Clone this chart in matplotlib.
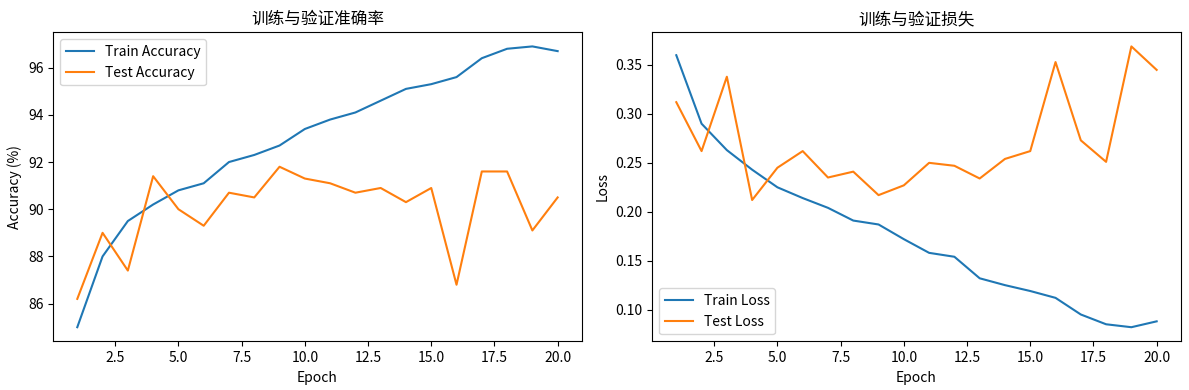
import matplotlib
matplotlib.use("Agg")
import matplotlib.pyplot as plt

plt.rcParams['font.family'] = ['Noto Sans CJK SC', 'DejaVu Sans']
plt.rcParams['axes.unicode_minus'] = False

epochs = list(range(1, 21))

# accuracy (%)
train_acc = [85.0, 88.0, 89.5, 90.2, 90.8, 91.1, 92.0, 92.3, 92.7, 93.4,
             93.8, 94.1, 94.6, 95.1, 95.3, 95.6, 96.4, 96.8, 96.9, 96.7]
test_acc = [86.2, 89.0, 87.4, 91.4, 90.0, 89.3, 90.7, 90.5, 91.8, 91.3,
            91.1, 90.7, 90.9, 90.3, 90.9, 86.8, 91.6, 91.6, 89.1, 90.5]

# loss
train_loss = [0.360, 0.290, 0.263, 0.243, 0.225, 0.214, 0.204, 0.191, 0.187, 0.172,
              0.158, 0.154, 0.132, 0.125, 0.119, 0.112, 0.095, 0.085, 0.082, 0.088]
test_loss = [0.312, 0.262, 0.338, 0.212, 0.245, 0.262, 0.235, 0.241, 0.217, 0.227,
             0.250, 0.247, 0.234, 0.254, 0.262, 0.353, 0.273, 0.251, 0.369, 0.345]

fig, (ax1, ax2) = plt.subplots(1, 2, figsize=(11.89, 3.9), dpi=100)

ax1.plot(epochs, train_acc, label='Train Accuracy')
ax1.plot(epochs, test_acc, label='Test Accuracy')
ax1.set_title('训练与验证准确率')
ax1.set_xlabel('Epoch')
ax1.set_ylabel('Accuracy (%)')
ax1.legend(loc='upper left')

ax2.plot(epochs, train_loss, label='Train Loss')
ax2.plot(epochs, test_loss, label='Test Loss')
ax2.set_title('训练与验证损失')
ax2.set_xlabel('Epoch')
ax2.set_ylabel('Loss')
ax2.legend(loc='lower left')

plt.subplots_adjust(left=0.0448, right=0.993, bottom=0.125, top=0.917, wspace=0.1336)
plt.savefig('out.png')
